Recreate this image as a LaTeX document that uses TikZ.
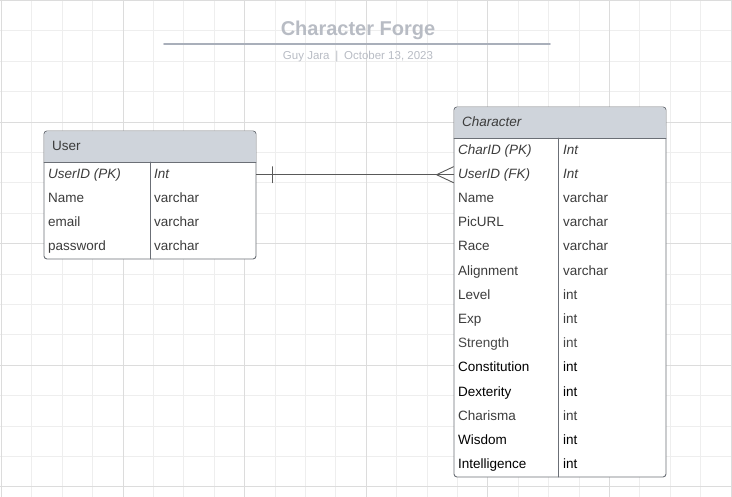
\documentclass[tikz,border=0pt]{standalone}
\usepackage{fontspec}
\setmainfont{Liberation Sans}
\definecolor{gridminor}{HTML}{EEEEEE}
\definecolor{gridmajor}{HTML}{DCDCDC}
\definecolor{hdrfill}{HTML}{CFD4DB}
\definecolor{boxline}{HTML}{6B6F76}
\definecolor{titlegray}{HTML}{B8BCC4}
\definecolor{rulegray}{HTML}{A9AFBA}
\definecolor{txt}{HTML}{3C3C3C}
\definecolor{txtlight}{HTML}{484848}
\begin{document}
\begin{tikzpicture}[x=1pt,y=-1pt, line join=round, line cap=round,
	cell/.style={anchor=base west, inner sep=0pt, font=\fontsize{13.5}{16}\selectfont, text=txt},
	frame/.style={draw=boxline, line width=0.9pt, fill=white, rounded corners=3pt, inner sep=0pt, minimum width=212pt},
	sep/.style={draw=boxline, line width=0.9pt},
	conn/.style={draw=black!65, line width=0.9pt}]
	\useasboundingbox (0,0) rectangle (732,497);
	% grid
	\foreach \k in {0,...,24} \draw[gridminor, line width=1pt] ({1.5+30.4*\k},0) -- ({1.5+30.4*\k},497);
	\foreach \k in {0,...,16} \draw[gridminor, line width=1pt] (0,{0.5+30.4*\k}) -- (732,{0.5+30.4*\k});
	\foreach \k in {0,4,...,24} \draw[gridmajor, line width=1pt] ({1.5+30.4*\k},0) -- ({1.5+30.4*\k},497);
	\foreach \k in {0,4,...,16} \draw[gridmajor, line width=1pt] (0,{0.5+30.4*\k}) -- (732,{0.5+30.4*\k});
	% title
	\node[text=titlegray, font=\fontsize{20}{24}\selectfont\bfseries] (title) at (358,30) {Character Forge};
	\draw[rulegray, line width=1.8pt] (164,44) -- (550,44);
	\node[text=titlegray, font=\fontsize{11.5}{14}\selectfont] (sub) at (358,56.5) {Guy Jara\enspace|\enspace October 13, 2023};
	% User table
	\node[frame, minimum height=128pt] (user) at (150,195) {};
	\fill[hdrfill, rounded corners=2.5pt] (44.5,131.5) rectangle (255.5,162);
	\fill[hdrfill] (44.5,150) rectangle (255.5,162);
	\draw[sep] (44,162) -- (256,162) (150,162) -- (150,259);
	\node[cell] (uhd) at (52,150.5) {User};
	\foreach \n/\t [count=\i] in {{\itshape UserID (PK)}/{\itshape Int}, Name/varchar, email/varchar, password/varchar}{
		\node[cell] (un\i) at (48,{162+24.2*\i-8}) {\n};
		\node[cell] (ut\i) at (154,{162+24.2*\i-8}) {\t};
	}
	% Character table
	\node[frame, minimum height=370pt] (char) at (560,292) {};
	\fill[hdrfill, rounded corners=2.5pt] (454.5,107.5) rectangle (665.5,138);
	\fill[hdrfill] (454.5,126) rectangle (665.5,138);
	\draw[sep] (454,138) -- (666,138) (558,138) -- (558,477);
	\node[cell] (chd) at (462,126.5) {\itshape Character};
	\foreach \n/\t/\c [count=\i] in {{\itshape CharID (PK)}/{\itshape Int}/txt, {\itshape UserID (FK)}/{\itshape Int}/txt,
		Name/varchar/txt, PicURL/varchar/txt, Race/varchar/txt, Alignment/varchar/txt, Level/int/txt, Exp/int/txt,
		Strength/int/txtlight, Constitution/int/black, Dexterity/int/black, Charisma/int/txt, Wisdom/int/black, Intelligence/int/black}{
		\node[cell, text=\c] (cn\i) at (458,{138+24.2*\i-8}) {\n};
		\node[cell, text=\c] (ct\i) at (563,{138+24.2*\i-8}) {\t};
	}
	% relation User 1 -- n Character
	\coordinate (fkA) at (user.east |- un1);
	\coordinate (fkB) at (char.west |- un1);
	\draw[conn] (fkA) -- (fkB);
	\draw[conn] ([xshift=16pt,yshift=8pt]fkA) -- ([xshift=16pt,yshift=-8pt]fkA);
	\draw[conn] ([yshift=8pt]fkB) -- ([xshift=-17pt]fkB) -- ([yshift=-8pt]fkB);
\end{tikzpicture}
\end{document}
